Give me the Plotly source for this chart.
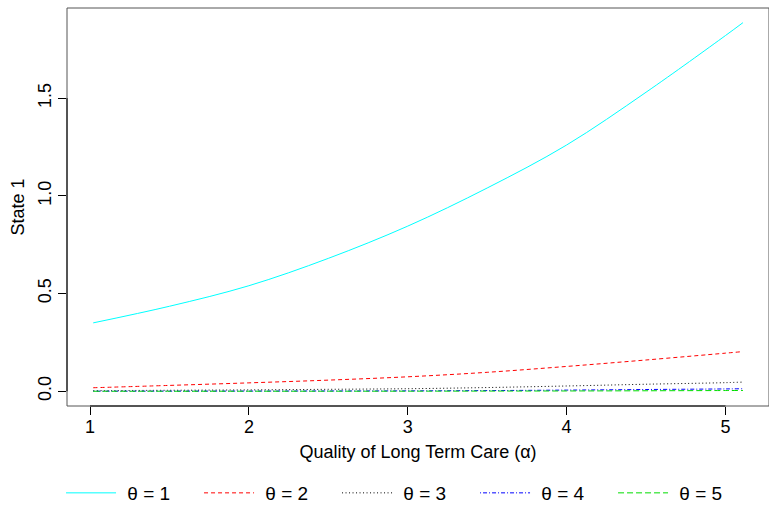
import plotly.graph_objects as go

# x values (quality of long term care, alpha)
alpha = [1.02, 1.5, 2.0, 2.5, 3.0, 3.5, 4.0, 4.5, 5.0, 5.11]

# State 1 values for each theta
theta1 = [0.350, 0.435, 0.540, 0.680, 0.845, 1.040, 1.260, 1.530, 1.820, 1.886]
theta2 = [0.018, 0.030, 0.043, 0.057, 0.074, 0.097, 0.127, 0.160, 0.195, 0.203]
theta3 = [0.003, 0.005, 0.007, 0.010, 0.013, 0.019, 0.027, 0.036, 0.044, 0.047]
theta4 = [0.0003, 0.0006, 0.001, 0.0015, 0.002, 0.0035, 0.006, 0.009, 0.012, 0.013]
theta5 = [0.0, 0.0001, 0.0002, 0.0003, 0.0005, 0.001, 0.0015, 0.0025, 0.0037, 0.004]

names = ["\u2004θ = 1", "\u2004θ = 2", "\u2004θ = 3", "\u2004θ = 4", "\u2004θ = 5"]
series = [theta1, theta2, theta3, theta4, theta5]
colors = ["#00FFFF", "#FF0000", "#000000", "#0000FF", "#00DD00"]
dashes = ["solid", "4px,3px", "1px,2.5px", "1px,2px,4px,2px", "6px,3px"]

xticks = [1, 2, 3, 4, 5]
yticks = [0.0, 0.5, 1.0, 1.5]
ytick_text = ["0.0", "0.5", "1.0", "1.5"]

fig = go.Figure()
for nm, ys, c, d in zip(names, series, colors, dashes):
    fig.add_trace(go.Scatter(x=alpha, y=ys, mode="lines", name=nm,
                             line=dict(color=c, width=1, dash=d, shape="spline")))

font = "Liberation Sans, Arial, Helvetica, sans-serif"
fig.update_layout(
    width=769, height=507,
    margin=dict(l=67, r=0, t=8, b=101, autoexpand=False),
    paper_bgcolor="white", plot_bgcolor="white",
    font=dict(family=font, size=18, color="black"),
    showlegend=True,
    legend=dict(orientation="h", x=-0.0085, xanchor="left", y=-0.2186, yanchor="middle",
                font=dict(size=19), itemwidth=50, entrywidth=73, entrywidthmode="pixels",
                bgcolor="rgba(0,0,0,0)", tracegroupgap=0),
    xaxis=dict(range=[0.855, 5.274], tickmode="array", tickvals=xticks,
               ticks="outside", ticklen=8, tickwidth=1, tickcolor="black",
               showgrid=False, zeroline=False, showline=False,
               tickfont=dict(size=18), ticklabelstandoff=-4,
               title=dict(text="Quality of Long Term Care (α)", font=dict(size=18), standoff=9)),
    yaxis=dict(range=[-0.0754, 1.961], tickmode="array", tickvals=yticks, ticktext=ytick_text,
               ticks="outside", ticklen=8, tickwidth=1, tickcolor="black",
               showgrid=False, zeroline=False, showline=False, tickangle=-90,
               tickfont=dict(size=18),
               title=dict(text="State 1", font=dict(size=18), standoff=5)),
)

# plot box
fig.add_shape(type="rect", xref="paper", yref="paper", x0=0, y0=0, x1=1, y1=1,
              line=dict(color="#555555", width=1), layer="above")
# axis lines spanning first to last tick (as in R base graphics)
fig.add_shape(type="line", xref="x", yref="paper", x0=xticks[0], x1=xticks[-1], y0=0, y1=0,
              line=dict(color="black", width=1))
fig.add_shape(type="line", xref="paper", yref="y", x0=0, x1=0, y0=yticks[0], y1=yticks[-1],
              line=dict(color="black", width=1))

fig.write_html("out.html")
